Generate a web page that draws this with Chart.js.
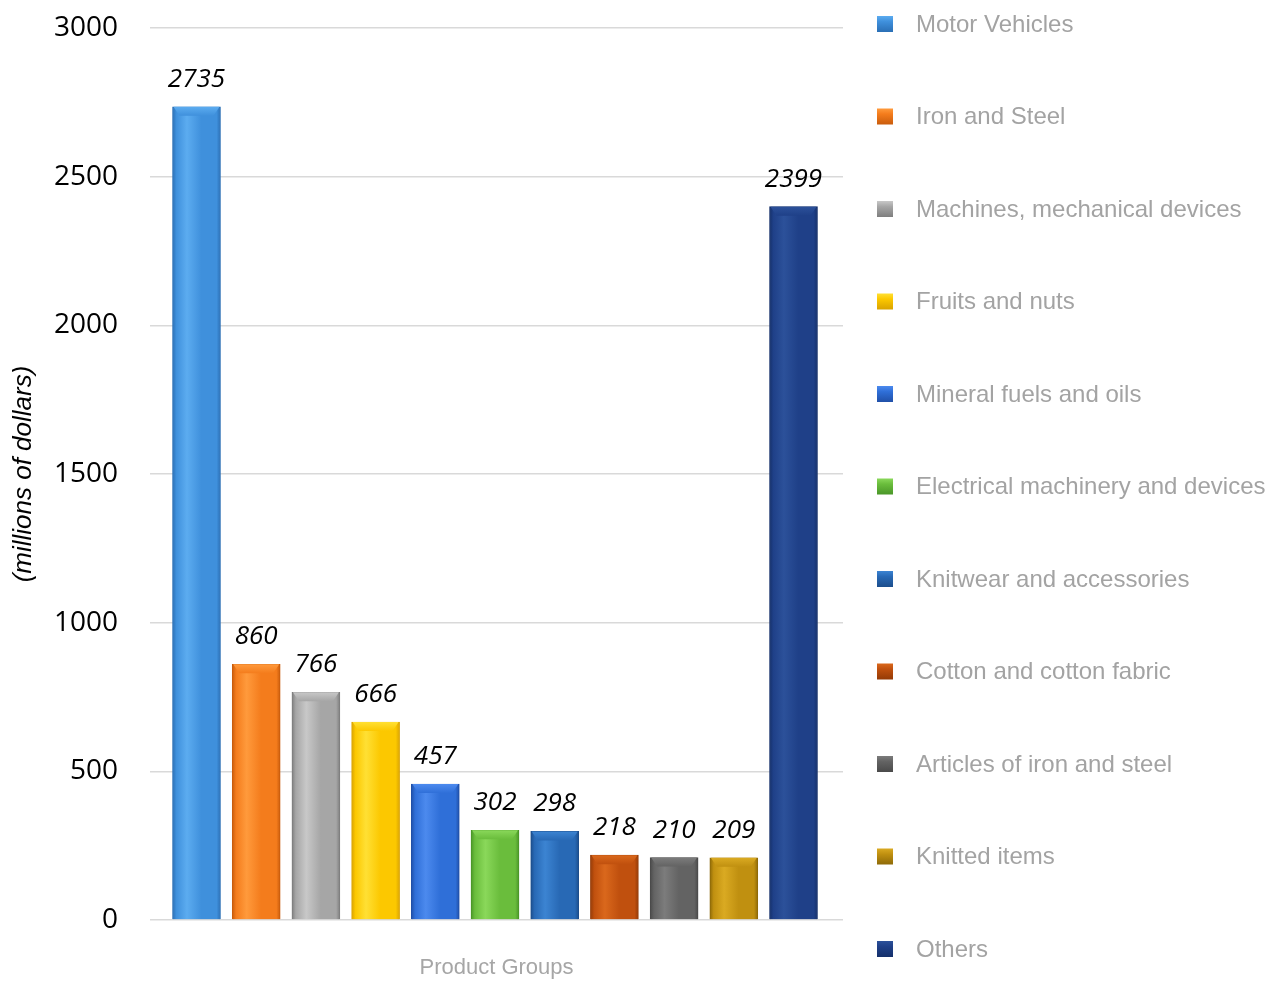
<!DOCTYPE html>
<html lang="en">

<head>
    <meta charset="UTF-8">
    <meta name="viewport" content="width=device-width, initial-scale=1.0">
    <title>Exports by Product Group</title>
    <style>
        body {
            margin: 0;
            background-color: #fff;
        }

        canvas {
            display: block;
        }
    </style>
    <script src="https://cdn.jsdelivr.net/npm/chart.js"></script>
</head>

<body>
    <canvas id="myChart" width="1283" height="985"></canvas>
    <script>
        const categories = [
            'Motor Vehicles',
            'Iron and Steel',
            'Machines, mechanical devices',
            'Fruits and nuts',
            'Mineral fuels and oils',
            'Electrical machinery and devices',
            'Knitwear and accessories',
            'Cotton and cotton fabric',
            'Articles of iron and steel',
            'Knitted items',
            'Others'
        ];
        const values = [2735, 860, 766, 666, 457, 302, 298, 218, 210, 209, 2399];
        const yTicks = [0, 500, 1000, 1500, 2000, 2500, 3000];

        // three shades per bar: highlight, body, shadow edge
        const lightColors = ['#5cacf0', '#ff9a3c', '#c8c8c8', '#ffe034', '#4c8aee', '#8ad85a', '#3c84d2', '#da681c', '#7c7c7c', '#daaa22', '#2c519a'];
        const midColors = ['#3f90dc', '#f47c1c', '#a6a6a6', '#fcc800', '#2f6fd8', '#6abd3c', '#2869b5', '#c0500e', '#636363', '#c09010', '#1f4088'];
        const darkColors = ['#2a6fb5', '#c95c0c', '#7e7e7e', '#d9a300', '#2050a8', '#4a9628', '#1c4e8c', '#943a06', '#4a4a4a', '#8e6a08', '#15306a'];

        const BAR_WIDTH = 48;

        function barFill(context) {
            const i = context.dataIndex;
            const chart = context.chart;
            if (!chart.chartArea) {
                return midColors[i];
            }
            const cx = chart.scales.x.getPixelForValue(i + 1);
            const g = chart.ctx.createLinearGradient(cx - BAR_WIDTH / 2, 0, cx + BAR_WIDTH / 2, 0);
            g.addColorStop(0, darkColors[i]);
            g.addColorStop(0.08, midColors[i]);
            g.addColorStop(0.3, lightColors[i]);
            g.addColorStop(0.6, midColors[i]);
            g.addColorStop(0.92, midColors[i]);
            g.addColorStop(1, darkColors[i]);
            return g;
        }

        // lighter bevel on top of each bar + italic value above it
        const barDecor = {
            id: 'barDecor',
            afterDatasetsDraw(chart) {
                const ctx = chart.ctx;
                const meta = chart.getDatasetMeta(0);
                ctx.save();
                meta.data.forEach((bar, i) => {
                    const { x, y, width } = bar.getProps(['x', 'y', 'width'], true);
                    const l = x - width / 2;
                    const r = x + width / 2;
                    const g = ctx.createLinearGradient(0, y, 0, y + 9);
                    g.addColorStop(0, lightColors[i]);
                    g.addColorStop(1, midColors[i]);
                    ctx.fillStyle = g;
                    ctx.beginPath();
                    ctx.moveTo(l + 1, y);
                    ctx.lineTo(r - 1, y);
                    ctx.lineTo(r - 7, y + 9);
                    ctx.lineTo(l + 7, y + 9);
                    ctx.closePath();
                    ctx.fill();

                    ctx.fillStyle = '#000';
                    ctx.font = 'italic 26px "Open Sans"';
                    ctx.textAlign = 'center';
                    ctx.textBaseline = 'alphabetic';
                    ctx.fillText(String(values[i]), x, y - 20);
                });
                ctx.restore();
            }
        };

        // legend on the right, one row per product group
        const sideLegend = {
            id: 'sideLegend',
            afterDraw(chart) {
                const ctx = chart.ctx;
                const left = chart.chartArea.right + 34;
                const step = 92.5;
                ctx.save();
                ctx.font = '24px "Liberation Sans"';
                ctx.textAlign = 'left';
                ctx.textBaseline = 'middle';
                categories.forEach((name, i) => {
                    const cy = 24 + i * step;
                    const g = ctx.createLinearGradient(0, cy - 8, 0, cy + 8);
                    g.addColorStop(0, lightColors[i]);
                    g.addColorStop(0.35, midColors[i]);
                    g.addColorStop(1, darkColors[i]);
                    ctx.fillStyle = g;
                    ctx.fillRect(left, cy - 8, 16, 16);
                    ctx.fillStyle = '#a3a3a3';
                    ctx.fillText(name, left + 39, cy + 1);
                });
                ctx.restore();
            }
        };

        const ctx = document.getElementById('myChart').getContext('2d');
        const myChart = new Chart(ctx, {
            type: 'bar',
            data: {
                labels: categories,
                datasets: [{
                    label: 'Exports',
                    data: values.map((v, i) => ({ x: i + 1, y: v })),
                    backgroundColor: barFill,
                    borderColor: darkColors,
                    borderWidth: 1,
                    barThickness: BAR_WIDTH
                }]
            },
            options: {
                responsive: false,
                animation: false,
                layout: {
                    padding: { top: 28, right: 440, bottom: 0, left: 0 }
                },
                plugins: {
                    legend: { display: false },
                    tooltip: { enabled: false }
                },
                scales: {
                    x: {
                        type: 'linear',
                        offset: false,
                        min: 0.221,
                        max: 11.829,
                        grid: { display: false },
                        border: { display: false },
                        ticks: { display: false },
                        title: {
                            display: true,
                            text: 'Product Groups',
                            color: '#a6a6a6',
                            font: { family: 'Liberation Sans', size: 22 },
                            padding: { top: 0, bottom: 4 }
                        },
                        afterFit: (scale) => { scale.height = 65; }
                    },
                    y: {
                        min: yTicks[0],
                        max: yTicks[yTicks.length - 1],
                        ticks: {
                            stepSize: yTicks[1] - yTicks[0],
                            padding: 0,
                            color: '#000',
                            font: { family: 'Open Sans', size: 28 },
                            callback: (value) => String(value)
                        },
                        // invisible tick marks keep the labels clear of the plot
                        grid: {
                            color: '#d9d9d9',
                            lineWidth: 1.5,
                            drawTicks: true,
                            tickLength: 32,
                            tickColor: 'rgba(0,0,0,0)'
                        },
                        border: { display: false },
                        title: {
                            display: true,
                            text: '(millions of dollars)',
                            color: '#000',
                            font: { family: 'Liberation Sans', size: 26, style: 'italic' },
                            padding: { top: 8, bottom: 0 }
                        },
                        afterFit: (scale) => { scale.width = 150; }
                    }
                }
            },
            plugins: [barDecor, sideLegend]
        });
    </script>
</body>

</html>
